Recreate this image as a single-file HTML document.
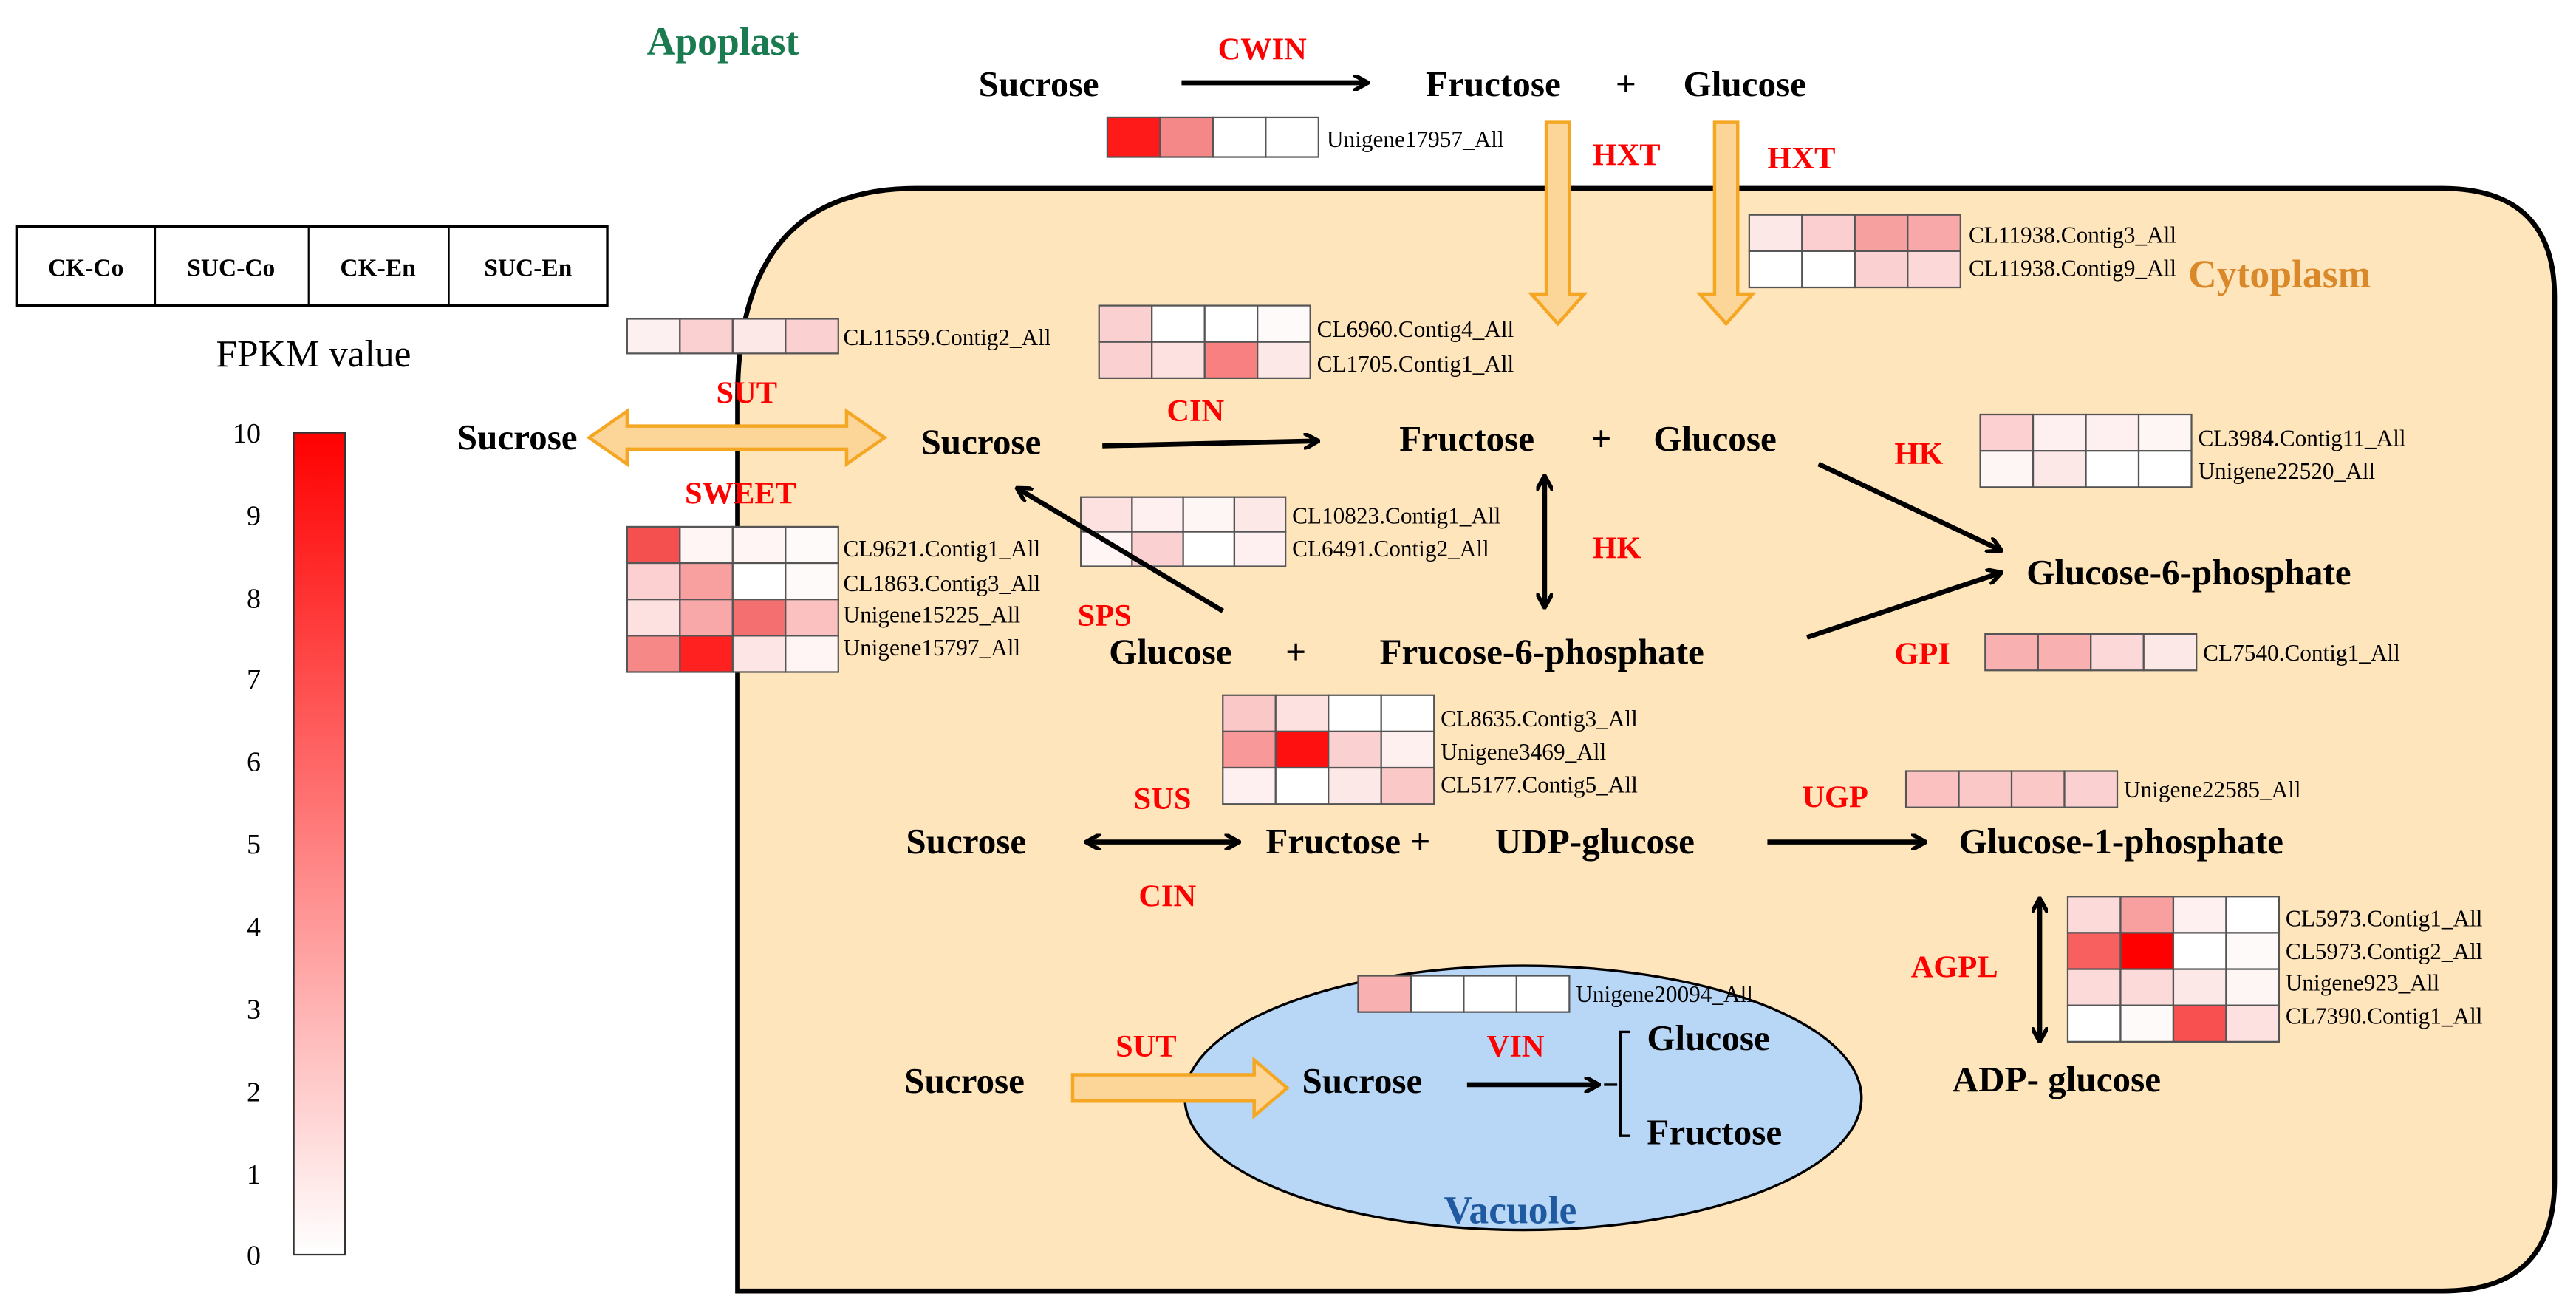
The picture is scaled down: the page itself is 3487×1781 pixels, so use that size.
<!DOCTYPE html>
<html><head><meta charset="utf-8"><style>
html,body{margin:0;padding:0;background:#fff}
svg{display:block}
text{font-family:"Liberation Serif",serif}
.b{font-weight:bold;font-size:22px;fill:#000}
.r{font-weight:bold;font-size:19px;fill:#ff0000}
.g{font-size:14px;fill:#000}
.t{font-size:15px;font-weight:bold}
</style></head><body>
<svg width="3487" height="1781" viewBox="0 0 1561 797" xmlns="http://www.w3.org/2000/svg">
<defs>
<linearGradient id="cb" x1="0" y1="0" x2="0" y2="1"><stop offset="0" stop-color="#ff0000"/><stop offset="1" stop-color="#ffffff"/></linearGradient>
<marker id="ah" markerWidth="10" markerHeight="10" refX="8" refY="5" orient="auto" markerUnits="userSpaceOnUse"><path d="M0,0 L9,5 L0,10" fill="none" stroke="#000" stroke-width="2.5"/></marker>
<marker id="as" markerWidth="10" markerHeight="10" refX="2" refY="5" orient="auto" markerUnits="userSpaceOnUse"><path d="M10,0 L1,5 L10,10" fill="none" stroke="#000" stroke-width="2.5"/></marker>
</defs>
<rect width="1561" height="797" fill="#fff"/>
<!-- cytoplasm -->
<path d="M555,114 H1480 Q1548,114 1548,180 V715 Q1548,782 1480,782 H447 V240 Q447,114 555,114 Z" fill="#ffe5bb" stroke="#000" stroke-width="3"/>
<ellipse cx="923" cy="665" rx="205" ry="80" fill="#b8d6f5" stroke="#000" stroke-width="1.5"/>
<text x="392" y="33" class="b" fill="#1a7a50" style="fill:#1a7a50;font-size:24px">Apoplast</text>
<text x="1326" y="174" class="b" style="fill:#d9882a;font-size:24px">Cytoplasm</text>
<text x="875" y="741" class="b" style="fill:#1f5aa0;font-size:24px">Vacuole</text>
<!-- legend -->
<rect x="10" y="137" width="358" height="48" fill="#fff" stroke="#000" stroke-width="1.5"/>
<line x1="94" y1="137" x2="94" y2="185" stroke="#000"/><line x1="187" y1="137" x2="187" y2="185" stroke="#000"/><line x1="272" y1="137" x2="272" y2="185" stroke="#000"/>
<text x="52" y="167" class="t" text-anchor="middle">CK-Co</text>
<text x="140" y="167" class="t" text-anchor="middle">SUC-Co</text>
<text x="229" y="167" class="t" text-anchor="middle">CK-En</text>
<text x="320" y="167" class="t" text-anchor="middle">SUC-En</text>
<text x="190" y="222" text-anchor="middle" style="font-size:23px">FPKM value</text>
<rect x="178" y="262" width="31" height="498" fill="url(#cb)" stroke="#333" stroke-width="1"/>
<g style="font-size:17px" text-anchor="end">
<text x="158" y="268">10</text><text x="158" y="318">9</text><text x="158" y="368">8</text><text x="158" y="417">7</text><text x="158" y="467">6</text><text x="158" y="517">5</text><text x="158" y="567">4</text><text x="158" y="617">3</text><text x="158" y="667">2</text><text x="158" y="717">1</text><text x="158" y="766">0</text>
</g>
<!-- heatmaps -->
<g stroke="#555" stroke-width="1">
<!-- Unigene17957 -->
<rect x="671" y="71" width="32" height="24" fill="#ff1a1a"/><rect x="703" y="71" width="32" height="24" fill="#f48888"/><rect x="735" y="71" width="32" height="24" fill="#fff"/><rect x="767" y="71" width="32" height="24" fill="#fff"/>
<!-- HXT -->
<rect x="1060" y="130" width="32" height="22" fill="#fde8e8"/><rect x="1092" y="130" width="32" height="22" fill="#fbcfcf"/><rect x="1124" y="130" width="32" height="22" fill="#f6a0a0"/><rect x="1156" y="130" width="32" height="22" fill="#f8a8a8"/>
<rect x="1060" y="152" width="32" height="22" fill="#fff"/><rect x="1092" y="152" width="32" height="22" fill="#fff"/><rect x="1124" y="152" width="32" height="22" fill="#fbd0d0"/><rect x="1156" y="152" width="32" height="22" fill="#fcd8d8"/>
<!-- CL11559 -->
<rect x="380" y="193" width="32" height="21" fill="#fdf0f0"/><rect x="412" y="193" width="32" height="21" fill="#fad0d0"/><rect x="444" y="193" width="32" height="21" fill="#fde8e8"/><rect x="476" y="193" width="32" height="21" fill="#fbd0d0"/>
<!-- CIN top -->
<rect x="666" y="185" width="32" height="22" fill="#fbd0d0"/><rect x="698" y="185" width="32" height="22" fill="#fff"/><rect x="730" y="185" width="32" height="22" fill="#fff"/><rect x="762" y="185" width="32" height="22" fill="#fffafa"/>
<rect x="666" y="207" width="32" height="22" fill="#fbd0d0"/><rect x="698" y="207" width="32" height="22" fill="#fde0e0"/><rect x="730" y="207" width="32" height="22" fill="#f88080"/><rect x="762" y="207" width="32" height="22" fill="#fde8e8"/>
<!-- SPS -->
<rect x="655" y="301" width="31" height="21" fill="#fde0e0"/><rect x="686" y="301" width="31" height="21" fill="#fef0f0"/><rect x="717" y="301" width="31" height="21" fill="#fef5f5"/><rect x="748" y="301" width="31" height="21" fill="#fde8e8"/>
<rect x="655" y="322" width="31" height="21" fill="#fff5f5"/><rect x="686" y="322" width="31" height="21" fill="#fbd0d0"/><rect x="717" y="322" width="31" height="21" fill="#fff"/><rect x="748" y="322" width="31" height="21" fill="#fef0f0"/>
<!-- SWEET -->
<rect x="380" y="319" width="32" height="22" fill="#f45050"/><rect x="412" y="319" width="32" height="22" fill="#fff5f5"/><rect x="444" y="319" width="32" height="22" fill="#fff5f5"/><rect x="476" y="319" width="32" height="22" fill="#fffafa"/>
<rect x="380" y="341" width="32" height="22" fill="#fcd0d0"/><rect x="412" y="341" width="32" height="22" fill="#f8a0a0"/><rect x="444" y="341" width="32" height="22" fill="#fff"/><rect x="476" y="341" width="32" height="22" fill="#fffafa"/>
<rect x="380" y="363" width="32" height="22" fill="#fde0e0"/><rect x="412" y="363" width="32" height="22" fill="#f8a8a8"/><rect x="444" y="363" width="32" height="22" fill="#f47070"/><rect x="476" y="363" width="32" height="22" fill="#fbc0c0"/>
<rect x="380" y="385" width="32" height="22" fill="#f78888"/><rect x="412" y="385" width="32" height="22" fill="#ff2020"/><rect x="444" y="385" width="32" height="22" fill="#fde5e5"/><rect x="476" y="385" width="32" height="22" fill="#fff5f5"/>
<!-- SUS -->
<rect x="741" y="421" width="32" height="22" fill="#fbc8c8"/><rect x="773" y="421" width="32" height="22" fill="#fde0e0"/><rect x="805" y="421" width="32" height="22" fill="#fff"/><rect x="837" y="421" width="32" height="22" fill="#fff"/>
<rect x="741" y="443" width="32" height="22" fill="#f89898"/><rect x="773" y="443" width="32" height="22" fill="#ff1010"/><rect x="805" y="443" width="32" height="22" fill="#fbd0d0"/><rect x="837" y="443" width="32" height="22" fill="#fff0f0"/>
<rect x="741" y="465" width="32" height="22" fill="#fef0f0"/><rect x="773" y="465" width="32" height="22" fill="#fff"/><rect x="805" y="465" width="32" height="22" fill="#fde8e8"/><rect x="837" y="465" width="32" height="22" fill="#fbc8c8"/>
<!-- HK -->
<rect x="1200" y="251" width="32" height="22" fill="#fcd0d0"/><rect x="1232" y="251" width="32" height="22" fill="#fef0f0"/><rect x="1264" y="251" width="32" height="22" fill="#fef0f0"/><rect x="1296" y="251" width="32" height="22" fill="#fef5f5"/>
<rect x="1200" y="273" width="32" height="22" fill="#fef5f5"/><rect x="1232" y="273" width="32" height="22" fill="#fde8e8"/><rect x="1264" y="273" width="32" height="22" fill="#fff"/><rect x="1296" y="273" width="32" height="22" fill="#fff"/>
<!-- GPI -->
<rect x="1203" y="384" width="32" height="22" fill="#f8b0b0"/><rect x="1235" y="384" width="32" height="22" fill="#f8b0b0"/><rect x="1267" y="384" width="32" height="22" fill="#fcd8d8"/><rect x="1299" y="384" width="32" height="22" fill="#fde8e8"/>
<!-- UGP -->
<rect x="1155" y="467" width="32" height="22" fill="#fbc0c0"/><rect x="1187" y="467" width="32" height="22" fill="#fbc8c8"/><rect x="1219" y="467" width="32" height="22" fill="#fbc8c8"/><rect x="1251" y="467" width="32" height="22" fill="#fbd0d0"/>
<!-- AGPL -->
<rect x="1253" y="543" width="32" height="22" fill="#fddada"/><rect x="1285" y="543" width="32" height="22" fill="#f8a0a0"/><rect x="1317" y="543" width="32" height="22" fill="#fef0f0"/><rect x="1349" y="543" width="32" height="22" fill="#fff"/>
<rect x="1253" y="565" width="32" height="22" fill="#f86060"/><rect x="1285" y="565" width="32" height="22" fill="#ff0000"/><rect x="1317" y="565" width="32" height="22" fill="#fff"/><rect x="1349" y="565" width="32" height="22" fill="#fffafa"/>
<rect x="1253" y="587" width="32" height="22" fill="#fddada"/><rect x="1285" y="587" width="32" height="22" fill="#fddada"/><rect x="1317" y="587" width="32" height="22" fill="#fde8e8"/><rect x="1349" y="587" width="32" height="22" fill="#fef5f5"/>
<rect x="1253" y="609" width="32" height="22" fill="#fff"/><rect x="1285" y="609" width="32" height="22" fill="#fffafa"/><rect x="1317" y="609" width="32" height="22" fill="#f85050"/><rect x="1349" y="609" width="32" height="22" fill="#fde0e0"/>
<!-- Vacuole -->
<rect x="823" y="591" width="32" height="22" fill="#f8b0b0"/><rect x="855" y="591" width="32" height="22" fill="#fff"/><rect x="887" y="591" width="32" height="22" fill="#fff"/><rect x="919" y="591" width="32" height="22" fill="#fff"/>
</g>
<!-- gene labels -->
<g class="g">
<text x="804" y="89" class="g">Unigene17957_All</text>
<text x="1193" y="147" class="g">CL11938.Contig3_All</text>
<text x="1193" y="167" class="g">CL11938.Contig9_All</text>
<text x="511" y="209" class="g">CL11559.Contig2_All</text>
<text x="798" y="204" class="g">CL6960.Contig4_All</text>
<text x="798" y="225" class="g">CL1705.Contig1_All</text>
<text x="783" y="317" class="g">CL10823.Contig1_All</text>
<text x="783" y="337" class="g">CL6491.Contig2_All</text>
<text x="511" y="337" class="g">CL9621.Contig1_All</text>
<text x="511" y="358" class="g">CL1863.Contig3_All</text>
<text x="511" y="377" class="g">Unigene15225_All</text>
<text x="511" y="397" class="g">Unigene15797_All</text>
<text x="873" y="440" class="g">CL8635.Contig3_All</text>
<text x="873" y="460" class="g">Unigene3469_All</text>
<text x="873" y="480" class="g">CL5177.Contig5_All</text>
<text x="1332" y="270" class="g">CL3984.Contig11_All</text>
<text x="1332" y="290" class="g">Unigene22520_All</text>
<text x="1335" y="400" class="g">CL7540.Contig1_All</text>
<text x="1287" y="483" class="g">Unigene22585_All</text>
<text x="1385" y="561" class="g">CL5973.Contig1_All</text>
<text x="1385" y="581" class="g">CL5973.Contig2_All</text>
<text x="1385" y="600" class="g">Unigene923_All</text>
<text x="1385" y="620" class="g">CL7390.Contig1_All</text>
<text x="955" y="607" class="g">Unigene20094_All</text>
</g>
<!-- metabolites -->
<g class="b">
<text x="593" y="58">Sucrose</text>
<text x="864" y="58">Fructose</text>
<text x="979" y="58">+</text>
<text x="1020" y="58">Glucose</text>
<text x="277" y="272">Sucrose</text>
<text x="558" y="275">Sucrose</text>
<text x="848" y="273">Fructose</text>
<text x="964" y="273">+</text>
<text x="1002" y="273">Glucose</text>
<text x="1228" y="354">Glucose-6-phosphate</text>
<text x="672" y="402">Glucose</text>
<text x="779" y="402">+</text>
<text x="836" y="402">Frucose-6-phosphate</text>
<text x="549" y="517">Sucrose</text>
<text x="767" y="517">Fructose +</text>
<text x="906" y="517">UDP-glucose</text>
<text x="1187" y="517">Glucose-1-phosphate</text>
<text x="1183" y="661">ADP- glucose</text>
<text x="548" y="662">Sucrose</text>
<text x="789" y="662">Sucrose</text>
<text x="998" y="636">Glucose</text>
<text x="998" y="693">Fructose</text>
</g>
<!-- enzymes -->
<g class="r">
<text x="738" y="36">CWIN</text>
<text x="965" y="100">HXT</text>
<text x="1071" y="102">HXT</text>
<text x="434" y="244">SUT</text>
<text x="415" y="305">SWEET</text>
<text x="707" y="255">CIN</text>
<text x="1148" y="281">HK</text>
<text x="965" y="338">HK</text>
<text x="653" y="379">SPS</text>
<text x="1148" y="402">GPI</text>
<text x="687" y="490">SUS</text>
<text x="690" y="549">CIN</text>
<text x="1092" y="489">UGP</text>
<text x="1158" y="592">AGPL</text>
<text x="676" y="640">SUT</text>
<text x="901" y="640">VIN</text>
</g>
<!-- black arrows -->
<g stroke="#000" stroke-width="3" fill="none">
<line x1="716" y1="50" x2="828" y2="50" marker-end="url(#ah)"/>
<line x1="668" y1="270" x2="798" y2="267" marker-end="url(#ah)"/>
<line x1="741" y1="370" x2="617" y2="296" marker-end="url(#ah)"/>
<line x1="936" y1="289" x2="936" y2="367" marker-start="url(#as)" marker-end="url(#ah)"/>
<line x1="1102" y1="281" x2="1212" y2="333" marker-end="url(#ah)"/>
<line x1="1095" y1="386" x2="1212" y2="347" marker-end="url(#ah)"/>
<line x1="659" y1="510" x2="750" y2="510" marker-start="url(#as)" marker-end="url(#ah)"/>
<line x1="1071" y1="510" x2="1166" y2="510" marker-end="url(#ah)"/>
<line x1="1236" y1="545" x2="1236" y2="630" marker-start="url(#as)" marker-end="url(#ah)"/>
<line x1="889" y1="657" x2="968" y2="657" marker-end="url(#ah)"/>
</g>
<path d="M972,657 H980 M988,625 H982 V688 H988" stroke="#000" stroke-width="1.5" fill="none"/>
<!-- orange arrows -->
<g fill="#fcd699" stroke="#f5a623" stroke-width="2">
<path d="M357,265 L380,249 V258 H513 V249 L536,265 L513,281 V272 H380 V281 Z"/>
<path d="M937,74 H951 V178 H960 L944,196 L928,178 H937 Z"/>
<path d="M1039,74 H1053 V178 H1062 L1046,196 L1030,178 H1039 Z"/>
<path d="M650,651 H760 V642 L780,659 L760,676 V667 H650 Z"/>
</g>
</svg>
</body></html>
